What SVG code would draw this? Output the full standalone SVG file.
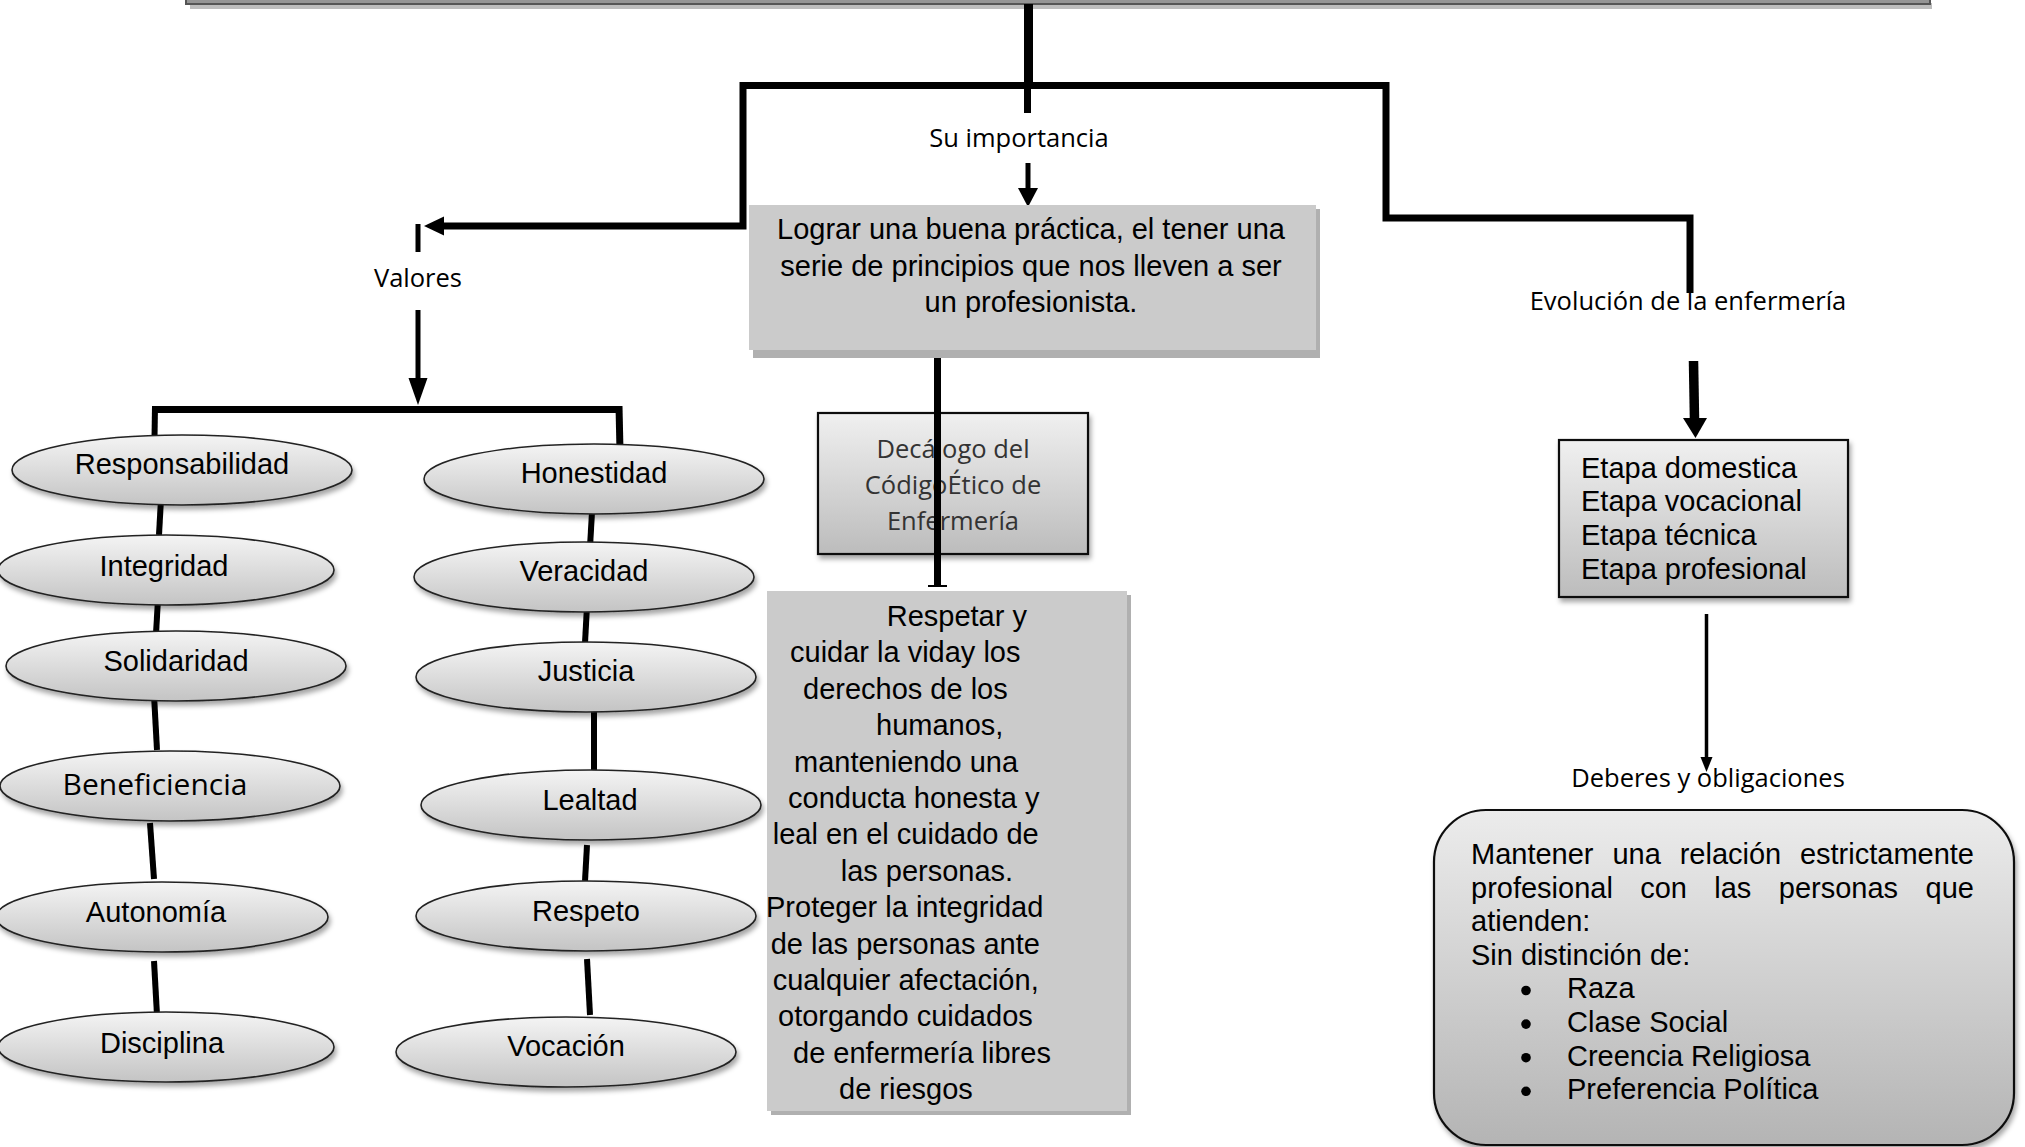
<svg xmlns="http://www.w3.org/2000/svg" width="2025" height="1147" viewBox="0 0 2025 1147">
<defs>
<linearGradient id="gEll" x1="0" y1="0" x2="0" y2="1"><stop offset="0" stop-color="#f4f4f4"/><stop offset="1" stop-color="#c4c4c4"/></linearGradient>
<linearGradient id="gBox" x1="0" y1="0" x2="0" y2="1"><stop offset="0" stop-color="#f0f0f0"/><stop offset="1" stop-color="#bcbcbc"/></linearGradient>
<linearGradient id="gRound" x1="0" y1="0" x2="0" y2="1"><stop offset="0" stop-color="#ececec"/><stop offset="1" stop-color="#b4b4b4"/></linearGradient>
<filter id="sh" x="-10%" y="-10%" width="125%" height="140%"><feDropShadow dx="2" dy="4" stdDeviation="2.5" flood-color="#000" flood-opacity="0.35"/></filter>
</defs>
<style>
.ar{font-family:"Liberation Sans",Arial,sans-serif;font-size:29px;fill:#000}
.ca{font-family:"Open Sans","DejaVu Sans",sans-serif;font-size:25.5px;fill:#000}
.ell{fill:url(#gEll);stroke:#222;stroke-width:1.6;filter:url(#sh)}
.box{fill:url(#gBox);stroke:#111;stroke-width:2.2;filter:url(#sh)}
.flat{fill:#cbcbcb}
.flatsh{fill:#b0b0b0}
.ln{stroke:#000;fill:none}
.ct{text-anchor:middle}
</style>

<g id="top-box">
<rect x="190" y="3" width="1742" height="6" fill="#bdbdbd"/>
<rect x="186" y="-10" width="1744" height="14" fill="#959595" stroke="#555" stroke-width="2"/>
</g>

<g id="connectors">
<line class="ln" x1="1028.5" y1="4" x2="1028.5" y2="84" stroke-width="9"/>
<line class="ln" x1="1027.5" y1="84" x2="1027.5" y2="113" stroke-width="7"/>
<polyline class="ln" points="443,226 743,226 743,85.5 1386,85.5 1386,218 1690,218 1690,293" stroke-width="7" stroke-linejoin="miter"/>
<polygon points="424,226 444,216.5 444,235.5" fill="#000"/>
<line class="ln" x1="1028" y1="163" x2="1028" y2="190" stroke-width="5"/>
<polygon points="1018,188 1038,188 1028,207" fill="#000"/>
<line class="ln" x1="418" y1="224" x2="418" y2="252" stroke-width="5"/>
<line class="ln" x1="418" y1="310" x2="418" y2="380" stroke-width="5"/>
<polygon points="408.5,378 427.5,378 418,405" fill="#000"/>
<line class="ln" x1="152" y1="409.5" x2="622" y2="409.5" stroke-width="7"/>
<line class="ln" x1="155" y1="406" x2="154.5" y2="438" stroke-width="6"/>
<line class="ln" x1="619" y1="406" x2="620" y2="451" stroke-width="7"/>
<line class="ln" x1="161" y1="499" x2="159" y2="535" stroke-width="6"/>
<line class="ln" x1="158" y1="599" x2="156" y2="634" stroke-width="6"/>
<line class="ln" x1="154" y1="695" x2="157" y2="750" stroke-width="6"/>
<line class="ln" x1="150" y1="823" x2="154" y2="879" stroke-width="6"/>
<line class="ln" x1="154" y1="961" x2="157" y2="1015" stroke-width="6"/>
<line class="ln" x1="592" y1="512" x2="590" y2="547" stroke-width="6"/>
<line class="ln" x1="587" y1="606" x2="585" y2="643" stroke-width="6"/>
<line class="ln" x1="594" y1="709" x2="594" y2="772" stroke-width="6"/>
<line class="ln" x1="587" y1="845" x2="585" y2="881" stroke-width="6"/>
<line class="ln" x1="587" y1="959" x2="590" y2="1015" stroke-width="6"/>
<line class="ln" x1="1693.5" y1="361" x2="1694.5" y2="420" stroke-width="9.5"/>
<polygon points="1683,418 1707,418 1695.5,438" fill="#000"/>
<line class="ln" x1="1706.5" y1="614" x2="1706.5" y2="759" stroke-width="3.5"/>
<polygon points="1700.5,757 1712.5,757 1706.5,772" fill="#000"/>
</g>

<g id="lbl-importancia"><text class="ca ct" x="1019" y="147">Su importancia</text></g>
<g id="lbl-valores"><text class="ca ct" x="418" y="287">Valores</text></g>
<g id="lbl-evolucion"><text class="ca ct" x="1688" y="310">Evolución de la enfermería</text></g>
<g id="lbl-deberes"><text class="ca ct" x="1708" y="787">Deberes y obligaciones</text></g>

<g id="n-lograr">
<rect class="flatsh" x="753" y="209" width="567" height="149"/>
<rect class="flat" x="749" y="205" width="567" height="145"/>
<text class="ar ct" x="1031" y="239">Lograr una buena práctica, el tener una</text>
<text class="ar ct" x="1031" y="275.5">serie de principios que nos lleven a ser</text>
<text class="ar ct" x="1031" y="312">un profesionista.</text>
</g>

<g id="n-decalogo">
<rect class="box" x="818" y="413" width="270" height="141" fill="url(#gBox)"/>
<text class="ca ct" x="953" y="458" style="fill:#333">Decálogo del</text>
<text class="ca ct" x="953" y="494" style="fill:#333">CódigoÉtico de</text>
<text class="ca ct" x="953" y="529.5" style="fill:#333">Enfermería</text>
</g>
<g id="decalogo-line">
<line class="ln" x1="937.5" y1="358" x2="937.5" y2="587" stroke-width="7"/>
<line class="ln" x1="928" y1="586" x2="947" y2="586" stroke-width="2"/>
</g>

<g id="n-respetar">
<rect class="flatsh" x="771" y="595" width="360" height="520"/>
<rect class="flat" x="767" y="591" width="360" height="520"/>
<text class="ar" x="886.7" y="626">Respetar y</text>
<text class="ar" x="790" y="662.4">cuidar la viday los</text>
<text class="ar" x="803" y="698.8">derechos de los</text>
<text class="ar" x="876" y="735.2">humanos,</text>
<text class="ar" x="794" y="771.6">manteniendo una</text>
<text class="ar" x="788" y="808">conducta honesta y</text>
<text class="ar" x="772.7" y="844.4">leal en el cuidado de</text>
<text class="ar" x="840.7" y="880.8">las personas.</text>
<text class="ar" x="766" y="917.2">Proteger la integridad</text>
<text class="ar" x="770.7" y="953.6">de las personas ante</text>
<text class="ar" x="772.7" y="990">cualquier afectación,</text>
<text class="ar" x="778" y="1026.4">otorgando cuidados</text>
<text class="ar" x="793" y="1062.8">de enfermería libres</text>
<text class="ar" x="839" y="1099.2">de riesgos</text>
</g>

<g id="n-etapas">
<rect class="box" x="1559" y="440" width="289" height="157"/>
<text class="ar" x="1581" y="477.5">Etapa domestica</text>
<text class="ar" x="1581" y="511.2">Etapa vocacional</text>
<text class="ar" x="1581" y="545">Etapa técnica</text>
<text class="ar" x="1581" y="578.7">Etapa profesional</text>
</g>

<g id="n-deberes">
<rect x="1434" y="810" width="580" height="335" rx="52" ry="52" fill="url(#gRound)" stroke="#111" stroke-width="2.2" filter="url(#sh)"/>
<text class="ar" y="864"><tspan x="1471">Mantener</tspan><tspan x="1612.4">una</tspan><tspan x="1679.7">relación</tspan><tspan x="1974" text-anchor="end">estrictamente</tspan></text>
<text class="ar" y="897.6"><tspan x="1471">profesional</tspan><tspan x="1640.2">con</tspan><tspan x="1714.3">las</tspan><tspan x="1778.8">personas</tspan><tspan x="1974" text-anchor="end">que</tspan></text>
<text class="ar" x="1471" y="931.2">atienden:</text>
<text class="ar" x="1471" y="964.8">Sin distinción de:</text>
<circle cx="1526" cy="990.5" r="4.8"/>
<circle cx="1526" cy="1024.1" r="4.8"/>
<circle cx="1526" cy="1057.7" r="4.8"/>
<circle cx="1526" cy="1091.3" r="4.8"/>
<text class="ar" x="1567" y="998.4">Raza</text>
<text class="ar" x="1567" y="1032">Clase Social</text>
<text class="ar" x="1567" y="1065.6">Creencia Religiosa</text>
<text class="ar" x="1567" y="1099.2">Preferencia Política</text>
</g>

<g id="v-responsabilidad"><ellipse class="ell" cx="182" cy="470" rx="170" ry="35"/><text class="ar ct" x="182" y="474">Responsabilidad</text></g>
<g id="v-integridad"><ellipse class="ell" cx="166" cy="570" rx="168" ry="35"/><text class="ar ct" x="164" y="576">Integridad</text></g>
<g id="v-solidaridad"><ellipse class="ell" cx="176" cy="666" rx="170" ry="35"/><text class="ar ct" x="176" y="671">Solidaridad</text></g>
<g id="v-beneficiencia"><ellipse class="ell" cx="170" cy="786" rx="170" ry="35"/><text class="ca ct" x="155" y="795" style="font-size:30px">Beneficiencia</text></g>
<g id="v-autonomia"><ellipse class="ell" cx="162" cy="917" rx="166" ry="35"/><text class="ar ct" x="156" y="922">Autonomía</text></g>
<g id="v-disciplina"><ellipse class="ell" cx="166" cy="1047" rx="168" ry="35"/><text class="ar ct" x="162" y="1053">Disciplina</text></g>
<g id="v-honestidad"><ellipse class="ell" cx="594" cy="479" rx="170" ry="35"/><text class="ar ct" x="594" y="483">Honestidad</text></g>
<g id="v-veracidad"><ellipse class="ell" cx="584" cy="577" rx="170" ry="35"/><text class="ar ct" x="584" y="581">Veracidad</text></g>
<g id="v-justicia"><ellipse class="ell" cx="586" cy="677" rx="170" ry="35"/><text class="ar ct" x="586" y="681">Justicia</text></g>
<g id="v-lealtad"><ellipse class="ell" cx="591" cy="805" rx="170" ry="35"/><text class="ar ct" x="590" y="810">Lealtad</text></g>
<g id="v-respeto"><ellipse class="ell" cx="586" cy="916" rx="170" ry="35"/><text class="ar ct" x="586" y="921">Respeto</text></g>
<g id="v-vocacion"><ellipse class="ell" cx="566" cy="1052" rx="170" ry="35"/><text class="ar ct" x="566" y="1056">Vocación</text></g>
</svg>
